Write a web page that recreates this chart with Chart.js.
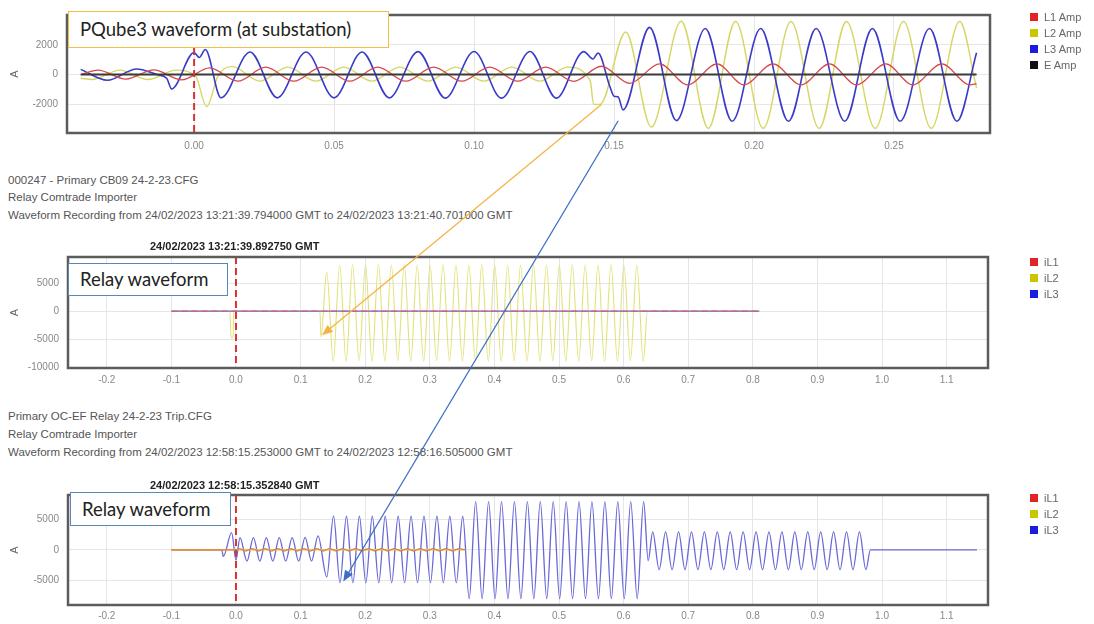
<!DOCTYPE html>
<html><head><meta charset="utf-8">
<script src="https://cdn.jsdelivr.net/npm/chart.js@4.4.1/dist/chart.umd.min.js"></script>
<style>
html,body{margin:0;padding:0;background:#fff;}
#page{position:relative;width:1094px;height:624px;overflow:hidden;font-family:"Liberation Sans",Arial,sans-serif;background:#fff;}
canvas{position:absolute;left:0;}
.info{position:absolute;left:8px;font-size:11.5px;color:#555;white-space:nowrap;line-height:13px;}
.stamp{position:absolute;left:150px;font-size:11px;font-weight:bold;color:#222;white-space:nowrap;line-height:13px;}
.note{position:absolute;background:#fff;font-family:Lato,"Open Sans",sans-serif;font-size:18.5px;color:#222;box-sizing:border-box;white-space:nowrap;padding-left:11px;}
.legend{position:absolute;left:1030px;font-size:11px;color:#666;}
.legend div{height:16px;line-height:16px;white-space:nowrap;}
.legend span{display:inline-block;width:8px;height:8px;margin-right:6px;}
</style></head>
<body>
<div id="page">
  <canvas id="cTop" width="1094" height="160" style="top:0px"></canvas>
  <canvas id="cMid" width="1094" height="150" style="top:240px"></canvas>
  <canvas id="cBot" width="1094" height="144" style="top:480px"></canvas>

  <div class="note" style="left:68px;top:11px;width:321px;height:37px;line-height:35px;border:1.5px solid #f0c04a;">PQube3 waveform (at substation)</div>
  <div class="note" style="left:68px;top:263px;width:160px;height:33px;line-height:31px;border:1.5px solid #5a88b6;">Relay waveform</div>
  <div class="note" style="left:70px;top:492px;width:161px;height:34px;line-height:32px;border:1.5px solid #5a88b6;">Relay waveform</div>

  <div class="info" style="top:174px">000247 - Primary CB09 24-2-23.CFG</div>
  <div class="info" style="top:191px">Relay Comtrade Importer</div>
  <div class="info" style="top:209px">Waveform Recording from 24/02/2023 13:21:39.794000 GMT to 24/02/2023 13:21:40.701000 GMT</div>
  <div class="stamp" style="top:240px">24/02/2023 13:21:39.892750 GMT</div>

  <div class="info" style="top:410px">Primary OC-EF Relay 24-2-23 Trip.CFG</div>
  <div class="info" style="top:428px">Relay Comtrade Importer</div>
  <div class="info" style="top:446px">Waveform Recording from 24/02/2023 12:58:15.253000 GMT to 24/02/2023 12:58:16.505000 GMT</div>
  <div class="stamp" style="top:479px">24/02/2023 12:58:15.352840 GMT</div>

  <div class="legend" id="legTop" style="top:9px"></div>
  <div class="legend" id="legMid" style="top:254px"></div>
  <div class="legend" id="legBot" style="top:490px"></div>

  <canvas id="cArrows" width="1094" height="624" style="top:0px;pointer-events:none"></canvas>
</div>
<script>
// ---------------- DATA ----------------
// Top chart: PQube3 (time s, current A)
const topL1T = [-0.0405,-0.0344,-0.0244,-0.0144,-0.0044,0.0056,0.0156,0.0256,0.0356,0.0456,0.0556,0.0656,0.0756,0.0856,0.0956,0.1056,0.1156,0.1256,0.1356,0.1455,0.1556,0.1663,0.1763,0.1868,0.1964,0.2068,0.2168,0.2270,0.2366,0.2471,0.2567,0.2671,0.2771,0.2795];
const topL1V = [0,300,-300,320,-350,450,-440,500,-440,500,-440,500,-440,500,-440,500,-440,500,-450,560,-590,720,-690,720,-690,720,-690,720,-690,720,-690,720,-690,-600];

const topL2T = [-0.0405,-0.0365,-0.0265,-0.0165,-0.0065,0.0005,0.0045,0.0085,0.0135,0.0235,0.0335,0.0435,0.0535,0.0635,0.0735,0.0835,0.0935,0.1035,0.1135,0.1235,0.1335,0.1415,0.1427,0.1450,0.1542,0.1633,0.1740,0.1837,0.1934,0.2033,0.2132,0.2233,0.2330,0.2433,0.2534,0.2633,0.2735,0.2795];
const topL2V = [-250,-330,300,-330,300,-100,-2150,-100,550,-440,500,-440,500,-440,500,-440,500,-440,500,-440,500,-420,-2000,-2000,2860,-3520,3580,-3600,3560,-3600,3560,-3600,3560,-3600,3560,-3600,3560,-900];

const topL3T = [-0.0405,-0.031,-0.0205,-0.0133,-0.0098,-0.008,0.0,0.0018,0.004,0.0096,0.020,0.0297,0.040,0.050,0.060,0.0697,0.080,0.0897,0.100,0.1098,0.120,0.1294,0.1392,0.1425,0.1443,0.1485,0.150,0.1515,0.1532,0.1627,0.1723,0.1826,0.1922,0.2024,0.2123,0.2222,0.2324,0.2423,0.2522,0.2627,0.2725,0.2795];
const topL3V = [350,-380,380,0,-250,-960,1480,1150,1680,-1560,1520,-1560,1520,-1560,1520,-1560,1540,-1580,1550,-1580,1550,-1580,1540,1050,1450,-800,-1450,-1500,-2370,3170,-3090,3090,-3130,3090,-3130,3090,-3130,3090,-3130,3090,-3130,1470];

const topET = [-0.0405,0.2795];
const topEV = [0,0];

// Middle chart: relay 000247 (time s, current A)
const midL1T = [-0.1,0.81];
const midL1V = [0,0];
const midL3T = [-0.1,0.81];
const midL3V = [0,0];
const midL2T = [-0.1,-0.0095,-0.0075,-0.0045,-0.0035,0.13,0.1315,
  0.1405,0.1505,0.1605,0.1705,0.1805,0.1905,0.2005,0.2105,0.2205,0.2305,
  0.2405,0.2505,0.2605,0.2705,0.2805,0.2905,0.3005,0.3105,0.3205,0.3305,
  0.3405,0.3505,0.3605,0.3705,0.3805,0.3905,0.4005,0.4105,0.4205,0.4305,
  0.4405,0.4505,0.4605,0.4705,0.4805,0.4905,0.5005,0.5105,0.5205,0.5305,
  0.5405,0.5505,0.5605,0.5705,0.5805,0.5905,0.6005,0.6105,0.6205,0.6305,
  0.637,0.81];
const midL2V = [0,0,-4700,-4700,0,0,-4600,
  7000,-8900,8200,-8900,8300,-8800,8200,-8900,8300,-8900,
  8200,-8800,8300,-8900,8200,-8900,8200,-8800,8300,-8900,
  8200,-8900,8200,-8800,8300,-8900,8200,-8900,8200,-8800,
  8200,-8900,8300,-8900,8200,-8800,8200,-8900,8300,-8900,
  8200,-8800,8200,-8900,8300,-8900,8200,-8800,8200,-8900,
  0,0];

// Bottom chart: relay OC-EF trip (time s, current A)
const botL1T = [-0.1,0.0,0.005,0.015,0.025,0.035,0.045,0.055,0.065,0.075,0.085,0.095,0.105,0.115,0.125,0.135,0.145,0.155,0.165,0.175,0.185,0.195,0.205,0.215,0.225,0.235,0.245,0.255,0.265,0.275,0.285,0.295,0.305,0.315,0.325,0.335,0.345,0.355];
const botL1V = [0,0,200,-200,200,-200,200,-200,200,-200,200,-200,200,-200,200,-200,200,-200,200,-200,200,-200,200,-200,200,-200,200,-200,200,-200,200,-200,200,-200,200,-200,200,0];
const botL2T = [-0.1,0.355];
const botL2V = [0,0];
const botL3T = [-0.1,-0.022,-0.0196,-0.0067,0.0,0.0062,0.017,0.027,0.037,0.047,0.057,0.067,0.077,0.087,0.097,0.107,0.117,0.127,0.1405,
  0.151,0.161,0.171,0.181,0.191,0.201,0.211,0.221,0.231,0.241,0.251,0.261,0.271,0.281,0.291,0.301,0.311,0.321,0.331,0.341,0.351,
  0.361,0.371,0.381,0.391,0.401,0.411,0.421,0.431,0.441,0.451,0.461,0.471,0.481,0.491,0.501,0.511,0.521,0.531,0.541,0.551,0.561,0.571,0.581,0.591,0.601,0.611,0.621,0.631,
  0.638,0.645,0.655,0.665,0.675,0.685,0.695,0.705,0.715,0.725,0.735,0.745,0.755,0.765,0.775,0.785,0.795,0.805,0.815,0.825,0.835,0.845,0.855,0.865,0.875,0.885,0.895,0.905,0.915,0.925,0.935,0.945,0.955,0.965,0.975,
  0.982,1.147];
const botL3V = [0,0,-1090,2800,-1700,2000,-1850,2000,-1850,2000,-1850,2000,-1850,2000,-1850,2050,-1850,2300,-4460,
  5570,-5400,5500,-5400,5500,-5400,5500,-5400,5500,-5400,5500,-5400,5500,-5400,5500,-5400,5500,-5400,5500,-5400,5500,
  -8000,7900,-8000,7900,-8000,7900,-8000,7900,-8000,7900,-8000,7900,-8000,7900,-8000,7900,-8000,7900,-8000,7900,-8000,7900,-8000,7900,-8000,7900,-8000,7900,
  -1800,2950,-3250,2950,-3250,2950,-3250,2950,-3250,2950,-3250,2950,-3250,2950,-3250,2950,-3250,2950,-3250,2950,-3250,2950,-3250,2950,-3250,2950,-3250,2950,-3250,2950,-3250,2950,-3250,2950,-3250,
  0,0];

// Tick values
const topXTicks = [0, 0.05, 0.10, 0.15, 0.20, 0.25];
const topYTicks = [-2000, 0, 2000];
const relXTicks = [-0.2, -0.1, 0.0, 0.1, 0.2, 0.3, 0.4, 0.5, 0.6, 0.7, 0.8, 0.9, 1.0, 1.1];
const midYTicks = [-10000, -5000, 0, 5000];
const botYTicks = [-5000, 0, 5000];

// Legend labels
const topLegend = ['L1 Amp','L2 Amp','L3 Amp','E Amp'];
const relLegend = ['iL1','iL2','iL3'];

// ---------------- RENDERING ----------------
const FF = '"Liberation Sans", Arial, sans-serif';
const legendColors = ['#e32424','#c9c800','#1c1ce0','#111111'];

const framePlugin = {
  id:'frame',
  afterDraw(chart){
    const {ctx, chartArea:a, scales:{x}} = chart;
    const px = x.getPixelForValue(0);
    ctx.save();
    ctx.strokeStyle = '#d83434'; ctx.lineWidth = 2; ctx.setLineDash([7,4]);
    ctx.beginPath(); ctx.moveTo(px, a.top); ctx.lineTo(px, a.bottom); ctx.stroke();
    ctx.setLineDash([]);
    ctx.strokeStyle = '#5c5c5c'; ctx.lineWidth = 2.5;
    ctx.strokeRect(a.left, a.top, a.right - a.left, a.bottom - a.top);
    ctx.restore();
  }
};

function waveChart(id, spec){
  return new Chart(document.getElementById(id).getContext('2d'), {
    type:'line',
    data:{datasets: spec.series.map(s => ({
      data: s.t.map((t,i) => ({x:t, y:s.v[i]})),
      borderColor: s.color, borderWidth: s.width, pointRadius: 0, fill: false,
      borderDash: s.dash || [],
      cubicInterpolationMode: 'monotone', order: s.order
    }))},
    options:{
      responsive:false, animation:false, events:[],
      layout:{padding:{left:0, right:spec.padRight, top:spec.padTop, bottom:0}},
      plugins:{legend:{display:false}, tooltip:{enabled:false}},
      scales:{
        x:{type:'linear', min:spec.xMin, max:spec.xMax,
          afterBuildTicks: sc => { sc.ticks = spec.xTicks.map(v => ({value:v})); },
          ticks:{autoSkip:false, maxRotation:0, minRotation:0,
            font:{size:10, family:FF}, color:'#888', padding:spec.xPad,
            callback: v => (Math.abs(v) < 1e-9 ? 0 : v).toFixed(spec.xDec)},
          grid:{color:'#e6e6e6', drawTicks:false}, border:{display:false},
          afterFit: sc => { sc.height = spec.xHeight; }},
        y:{type:'linear', min:spec.yMin, max:spec.yMax,
          afterBuildTicks: sc => { sc.ticks = spec.yTicks.map(v => ({value:v})); },
          ticks:{autoSkip:false, font:{size:10, family:FF}, color:'#888', padding:9,
            callback: v => String(Math.round(v))},
          grid:{color:'#e6e6e6', drawTicks:false}, border:{display:false},
          title:{display:true, text:'A', color:'#666', font:{size:11, family:FF}, padding:{top:8, bottom:0}},
          afterFit: sc => { sc.width = spec.yWidth; }}
      }
    },
    plugins:[framePlugin]
  });
}

const chartTop = waveChart('cTop', {
  padTop:11, padRight:104, xHeight:27, xPad:7, yWidth:67,
  xMin:-0.0454, xMax:0.2843, xTicks:topXTicks, xDec:2,
  yMin:-3920, yMax:4000, yTicks:topYTicks,
  series:[
    {t:topET,  v:topEV,  color:'#3a3a3a', width:2,   order:0},
    {t:topL1T, v:topL1V, color:'rgb(214,72,76)', width:1.3, order:1},
    {t:topL3T, v:topL3V, color:'rgb(58,58,200)', width:1.6, order:2},
    {t:topL2T, v:topL2V, color:'rgb(214,214,100)', width:1.4, order:3}
  ]
});

const chartMid = waveChart('cMid', {
  padTop:17, padRight:106, xHeight:22, xPad:6, yWidth:68,
  xMin:-0.26, xMax:1.164, xTicks:relXTicks, xDec:1,
  yMin:-10100, yMax:9630, yTicks:midYTicks,
  series:[
    {t:midL1T, v:midL1V, color:'rgba(226,90,110,0.9)', width:1.3, order:0, dash:[6,4]},
    {t:midL3T, v:midL3V, color:'rgb(110,100,200)', width:1.3, order:1},
    {t:midL2T, v:midL2V, color:'rgb(226,226,120)', width:1.1, order:2}
  ]
});

const chartBot = waveChart('cBot', {
  padTop:14, padRight:106, xHeight:19, xPad:5, yWidth:68,
  xMin:-0.26, xMax:1.164, xTicks:relXTicks, xDec:1,
  yMin:-9040, yMax:8980, yTicks:botYTicks,
  series:[
    {t:botL1T, v:botL1V, color:'rgba(228,110,50,0.85)', width:1.2, order:0},
    {t:botL2T, v:botL2V, color:'rgb(216,200,80)', width:1.4, order:1},
    {t:botL3T, v:botL3V, color:'rgb(104,104,216)', width:1.3, order:2}
  ]
});

// legends
function legend(id, labels){
  const el = document.getElementById(id);
  labels.forEach((lab,i) => {
    const d = document.createElement('div');
    d.innerHTML = '<span style="background:' + legendColors[i] + '"></span>' + lab;
    el.appendChild(d);
  });
}
legend('legTop', topLegend);
legend('legMid', relLegend);
legend('legBot', relLegend);

// arrows linking the waveforms (anchored in data units)
const arrowDefs = [
  {from:[chartTop, 0, 0.1455, -2000], to:[chartMid, 240, 0.133, -4300], color:'#f4b445'},
  {from:[chartTop, 0, 0.1515, -3100], to:[chartBot, 480, 0.166, -5200], color:'#3d6fc0'}
];
const actx = document.getElementById('cArrows').getContext('2d');
function px(c, top, t, v){ return [c.scales.x.getPixelForValue(t), top + c.scales.y.getPixelForValue(v)]; }
arrowDefs.forEach(a => {
  const [x1,y1] = px(a.from[0], a.from[1], a.from[2], a.from[3]);
  const [x2,y2] = px(a.to[0], a.to[1], a.to[2], a.to[3]);
  const ang = Math.atan2(y2-y1, x2-x1);
  const L = 11, W = 4.5;
  actx.strokeStyle = a.color; actx.fillStyle = a.color; actx.lineWidth = 1.3;
  actx.beginPath(); actx.moveTo(x1,y1);
  actx.lineTo(x2 - Math.cos(ang)*L*0.8, y2 - Math.sin(ang)*L*0.8); actx.stroke();
  actx.beginPath();
  actx.moveTo(x2, y2);
  actx.lineTo(x2 - Math.cos(ang)*L + Math.sin(ang)*W, y2 - Math.sin(ang)*L - Math.cos(ang)*W);
  actx.lineTo(x2 - Math.cos(ang)*L - Math.sin(ang)*W, y2 - Math.sin(ang)*L + Math.cos(ang)*W);
  actx.closePath(); actx.fill();
});
</script>
</body></html>
